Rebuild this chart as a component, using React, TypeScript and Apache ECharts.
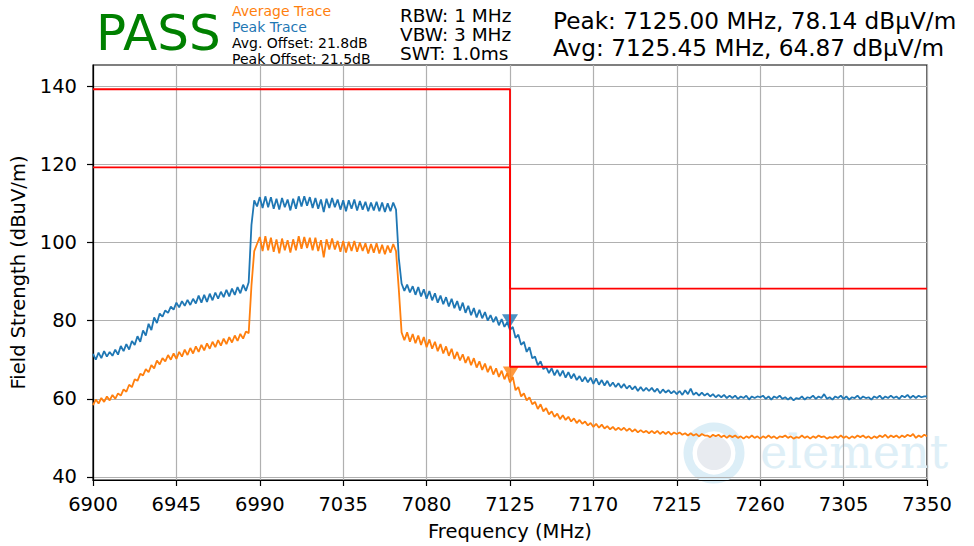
import React, { useEffect, useRef } from "react";
import * as echarts from "echarts";

// Sweep: 6900 MHz to 7350 MHz, 1.5 MHz per point
const FREQ_START = 6900;
const FREQ_STEP = 1.5;

const peakTrace = [
  71.5, 70.0, 71.8, 70.4, 72.2, 70.8, 72.0, 71.0, 72.6, 71.3,
  73.5, 72.2, 74.0, 72.6, 74.8, 73.8, 76.0, 74.6, 77.5, 76.2,
  79.2, 77.6, 80.8, 79.4, 81.8, 81.0, 82.6, 82.0, 83.6, 82.8,
  84.6, 83.4, 85.0, 83.8, 85.3, 84.0, 85.6, 84.4, 86.4, 84.6,
  86.6, 84.8, 86.9, 85.2, 87.2, 85.6, 87.4, 86.0, 87.9, 86.2,
  88.2, 86.6, 88.6, 87.0, 89.2, 87.6, 89.8, 104.5, 110.8, 109.2,
  111.6, 108.8, 111.8, 109.0, 111.6, 108.6, 111.2, 108.4, 111.4, 109.0,
  111.0, 108.2, 111.2, 108.6, 111.8, 109.2, 111.8, 109.4, 111.6, 108.8,
  111.4, 108.6, 111.0, 107.8, 111.2, 108.8, 111.4, 109.0, 111.0, 108.4,
  110.8, 108.0, 110.8, 108.6, 111.0, 108.2, 110.6, 108.4, 110.4, 108.0,
  110.2, 108.2, 110.4, 108.0, 110.2, 107.8, 110.0, 108.0, 110.2, 108.4,
  96.0, 89.5, 87.6, 89.2, 87.2, 88.8, 86.6, 88.6, 86.2, 88.0,
  85.6, 87.6, 85.2, 87.0, 84.6, 86.4, 84.2, 86.0, 83.6, 85.6,
  83.2, 85.0, 82.6, 84.6, 82.0, 83.8, 81.4, 83.2, 80.8, 82.8,
  80.6, 82.2, 80.0, 81.4, 79.6, 81.0, 78.8, 80.4, 78.4, 79.6,
  77.6, 78.4, 75.6, 76.4, 73.8, 74.6, 72.0, 73.2, 70.4, 70.8,
  68.6, 69.6, 67.6, 68.2, 66.6, 67.8, 66.0, 67.4, 65.8, 67.2,
  65.4, 66.8, 65.2, 66.4, 64.8, 65.8, 64.4, 65.6, 64.2, 65.4,
  63.8, 65.2, 63.6, 64.8, 63.4, 64.6, 63.2, 64.2, 63.0, 64.0,
  62.8, 63.8, 62.6, 63.4, 62.4, 63.2, 62.0, 63.0, 62.0, 62.8,
  62.0, 62.8, 61.8, 62.6, 61.4, 62.4, 61.6, 62.2, 61.4, 62.0,
  61.2, 62.0, 61.0, 62.2, 61.2, 62.6, 61.0, 61.6, 60.8, 61.6,
  60.8, 61.4, 60.6, 61.2, 60.4, 61.0, 60.4, 61.0, 60.2, 60.8,
  60.2, 60.8, 60.0, 60.6, 60.2, 60.8, 59.8, 60.6, 60.2, 60.6,
  60.4, 60.8, 60.0, 60.6, 59.8, 60.6, 60.2, 60.8, 60.0, 60.4,
  59.8, 60.4, 59.6, 60.2, 60.0, 60.6, 59.8, 60.4, 60.2, 60.8,
  60.0, 60.6, 60.2, 61.2, 60.0, 60.4, 59.8, 60.6, 60.2, 60.8,
  60.0, 60.6, 59.8, 60.4, 60.2, 60.8, 60.0, 60.6, 60.2, 60.4,
  59.8, 60.6, 60.2, 60.8, 60.0, 60.6, 60.2, 60.8, 60.2, 60.6,
  60.0, 60.8, 60.4, 61.0, 60.2, 60.8, 60.2, 60.8, 60.4, 60.6,
  60.6,
];

const avgTrace = [
  58.4, 59.8, 58.8, 60.2, 59.2, 60.6, 59.6, 61.0, 60.0, 61.4,
  60.8, 62.4, 61.8, 63.6, 63.0, 65.0, 64.6, 66.4, 66.0, 67.6,
  66.8, 68.6, 67.8, 69.8, 68.8, 70.4, 69.6, 71.2, 70.0, 71.6,
  70.2, 72.0, 70.8, 72.6, 71.2, 73.0, 71.6, 73.4, 72.0, 73.8,
  72.4, 74.2, 72.8, 74.6, 73.2, 75.0, 73.6, 75.4, 74.0, 75.8,
  74.4, 76.2, 74.8, 76.6, 75.4, 77.2, 76.8, 89.0, 97.8, 99.6,
  101.4, 97.8, 101.6, 98.0, 101.2, 97.6, 100.8, 97.2, 101.0, 98.0,
  100.6, 97.4, 100.8, 98.0, 101.6, 98.4, 101.4, 98.6, 101.2, 98.0,
  101.2, 97.8, 100.6, 96.2, 100.8, 98.2, 101.0, 98.2, 100.4, 97.6,
  100.4, 97.4, 100.2, 97.8, 100.4, 97.6, 100.0, 97.8, 99.8, 97.2,
  99.6, 97.4, 99.8, 97.2, 99.4, 97.0, 99.2, 97.4, 99.6, 97.8,
  88.0, 77.0, 75.0, 77.0, 74.6, 76.6, 74.2, 76.2, 73.8, 75.8,
  73.2, 75.2, 72.8, 74.6, 72.2, 74.0, 71.6, 73.4, 71.0, 72.8,
  70.2, 72.0, 69.8, 71.4, 69.2, 70.8, 68.6, 70.4, 68.0, 69.6,
  67.4, 69.0, 66.8, 68.4, 66.2, 67.8, 65.6, 67.2, 65.0, 66.6,
  64.2, 65.6, 62.2, 63.0, 60.6, 61.4, 59.6, 60.4, 58.6, 59.2,
  57.4, 58.6, 56.8, 57.6, 56.0, 56.8, 55.4, 56.2, 54.8, 55.8,
  54.6, 55.4, 54.2, 55.0, 53.8, 54.6, 53.6, 54.2, 53.2, 53.8,
  52.8, 53.6, 52.6, 53.4, 52.4, 53.0, 52.2, 52.8, 52.0, 52.6,
  52.0, 52.6, 51.8, 52.4, 51.6, 52.2, 51.4, 52.0, 51.4, 51.8,
  51.2, 51.8, 51.2, 51.8, 51.0, 51.6, 51.0, 51.6, 50.8, 51.4,
  51.0, 51.4, 50.8, 51.2, 50.6, 51.2, 50.6, 51.0, 50.4, 51.0,
  50.6, 50.6, 50.2, 50.8, 50.4, 50.8, 50.2, 50.6, 50.0, 50.6,
  50.2, 50.6, 50.0, 50.4, 49.8, 50.4, 50.0, 50.6, 50.0, 50.4,
  49.8, 50.4, 50.0, 50.6, 50.0, 50.4, 49.8, 50.4, 50.2, 50.6,
  50.0, 50.4, 49.8, 50.2, 50.0, 50.6, 50.0, 50.4, 49.8, 50.4,
  50.0, 50.6, 50.2, 50.4, 49.8, 50.2, 50.0, 50.4, 50.0, 50.6,
  50.0, 50.4, 49.8, 50.4, 50.0, 50.6, 50.2, 50.6, 50.0, 50.4,
  49.8, 50.4, 50.0, 50.6, 50.2, 50.8, 50.0, 50.6, 50.2, 50.6,
  50.0, 50.6, 50.2, 50.8, 50.4, 51.0, 50.0, 50.6, 50.2, 50.8,
  50.4,
];

// Limit lines
const limitFreqs = [6900, 7125, 7125, 7350];
const peakLimit = [139.2, 139.2, 88.2, 88.2];
const avgLimit = [119.2, 119.2, 68.2, 68.2];

// Markers
const peakMarker = [7125, 80.0];
const avgMarker = [7125.45, 66.6];

// Axis ticks
const xTicks = [6900, 6945, 6990, 7035, 7080, 7125, 7170, 7215, 7260, 7305, 7350];
const yTicks = [40, 60, 80, 100, 120, 140];

const FONT = "DejaVu Sans";
const BLUE = "#1f77b4";
const ORANGE = "#ff7f0e";
const RED = "#ff0000";

export default function App() {
  const ref = useRef<HTMLDivElement>(null);
  useEffect(() => {
    if (!ref.current) return;
    const chart = echarts.init(ref.current, null, { renderer: "svg" });
    const toXY = (arr: number[]) => arr.map((v, i) => [FREQ_START + i * FREQ_STEP, v]);
    const lim = (arr: number[]) => arr.map((v, i) => [limitFreqs[i], v]);
    const txt = (text: string, x: number, y: number, size: number, fill: string) => ({
      type: "text",
      x,
      y,
      silent: true,
      style: { text, fill, fontSize: size, fontFamily: FONT, verticalAlign: "middle", align: "left", lineHeight: size },
    });
    chart.setOption({
      animation: false,
      backgroundColor: "#ffffff",
      grid: { left: 93, right: 47, top: 65, bottom: 65.5, show: true, borderColor: "#000", borderWidth: 1.2, backgroundColor: "transparent" },
      xAxis: {
        type: "value",
        min: 6900,
        max: 7350,
        name: "Frequency (MHz)",
        nameLocation: "middle",
        nameGap: 41,
        nameTextStyle: { fontFamily: FONT, fontSize: 19.5, color: "#000" },
        axisLine: { show: true, lineStyle: { color: "#000", width: 1.2 } },
        axisTick: { show: true, inside: false, length: 6, lineStyle: { color: "#000", width: 1.2 }, customValues: xTicks },
        axisLabel: { fontFamily: FONT, fontSize: 19.5, color: "#000", margin: 14, customValues: xTicks, formatter: (v: number) => String(v) },
        splitLine: { show: true, lineStyle: { color: "#b0b0b0", width: 1.2 } },
      },
      yAxis: {
        type: "value",
        min: 39.23,
        max: 145.4,
        name: "Field Strength (dBuV/m)",
        nameLocation: "middle",
        nameGap: 63,
        nameTextStyle: { fontFamily: FONT, fontSize: 19.5, color: "#000" },
        axisLine: { show: true, lineStyle: { color: "#000", width: 1.2 } },
        axisTick: { show: true, inside: false, length: 6, lineStyle: { color: "#000", width: 1.2 }, customValues: yTicks },
        axisLabel: { fontFamily: FONT, fontSize: 19.5, color: "#000", margin: 16, customValues: yTicks, formatter: (v: number) => String(v) },
        splitLine: { show: true, lineStyle: { color: "#b0b0b0", width: 1.2 } },
      },
      graphic: [
        { type: "circle", silent: true, z: 0, shape: { cx: 714, cy: 453, r: 26 }, style: { fill: "none", stroke: "#dceef7", lineWidth: 9 } },
        { type: "circle", silent: true, z: 0, shape: { cx: 714, cy: 453, r: 17 }, style: { fill: "#e8ebf0" } },
        { type: "text", silent: true, z: 0, x: 760, y: 452, style: { text: "element", fill: "#deeff7", fontSize: 46, fontFamily: "DejaVu Serif", verticalAlign: "middle" } },
        txt("PASS", 96, 33, 50, "#008000"),
        txt("Average Trace", 232, 10.5, 14, ORANGE),
        txt("Peak Trace", 232, 26.5, 14, BLUE),
        txt("Avg. Offset: 21.8dB", 232, 42.5, 14, "#000"),
        txt("Peak Offset: 21.5dB", 232, 58.5, 14, "#000"),
        txt("RBW: 1 MHz", 400, 15, 18.5, "#000"),
        txt("VBW: 3 MHz", 400, 34, 18.5, "#000"),
        txt("SWT: 1.0ms", 400, 53, 18.5, "#000"),
        txt("Peak: 7125.00 MHz, 78.14 dBµV/m", 553, 20, 23.2, "#000"),
        txt("Avg: 7125.45 MHz, 64.87 dBµV/m", 553, 47, 23.2, "#000"),
      ],
      series: [
        { type: "line", data: toXY(peakTrace), showSymbol: false, symbol: "none", lineStyle: { color: BLUE, width: 1.8 }, z: 3 },
        { type: "line", data: toXY(avgTrace), showSymbol: false, symbol: "none", lineStyle: { color: ORANGE, width: 1.8 }, z: 3 },
        { type: "scatter", data: [peakMarker], symbol: "triangle", symbolRotate: 180, symbolSize: [16, 13], itemStyle: { color: BLUE }, z: 4 },
        { type: "scatter", data: [avgMarker], symbol: "triangle", symbolRotate: 180, symbolSize: [16, 13], itemStyle: { color: ORANGE }, z: 4 },
        { type: "line", data: lim(peakLimit), showSymbol: false, symbol: "none", lineStyle: { color: RED, width: 1.8 }, z: 5 },
        { type: "line", data: lim(avgLimit), showSymbol: false, symbol: "none", lineStyle: { color: RED, width: 1.8 }, z: 5 },
      ],
    });
    return () => chart.dispose();
  }, []);
  return <div ref={ref} style={{ position: "fixed", left: 0, top: 0, width: 974, height: 546 }} />;
}
